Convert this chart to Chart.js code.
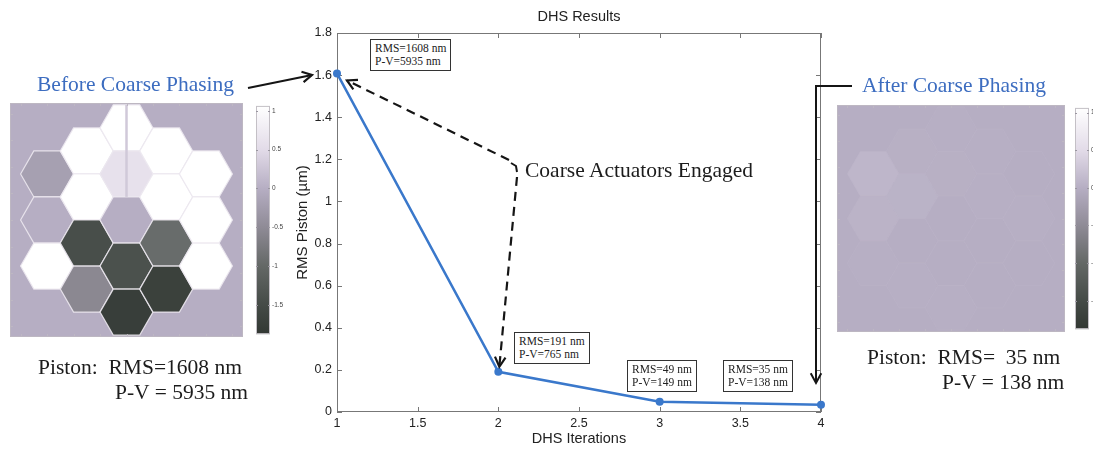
<!DOCTYPE html>
<html>
<head>
<meta charset="utf-8">
<script src="https://cdn.jsdelivr.net/npm/chart.js@4.4.1/dist/chart.umd.min.js"></script>
<style>
  html, body { margin: 0; padding: 0; background: #fff; width: 1093px; height: 450px; overflow: hidden; }
  body { position: relative; }
  canvas { position: absolute; }
  #main { left: 0; top: 0; z-index: 2; pointer-events: none; }
  .lbl { position: absolute; z-index: 3; white-space: pre; font-family: "Liberation Serif", "Times New Roman", serif; font-size: 21.5px; line-height: 1; color: #1c1c1c; }
  .blue { color: #3d6dc0; }
  .box { position: absolute; z-index: 3; background: #fff; border: 1px solid #333; font-family: "Liberation Serif", "Times New Roman", serif; font-size: 11.5px; line-height: 13px; padding: 2px 4px; white-space: pre; color: #222; }
  #title { position: absolute; z-index: 3; left: 579px; top: 9px; transform: translateX(-50%); font-family: "Liberation Sans", Arial, sans-serif; font-size: 14.5px; line-height: 1; color: #222; white-space: pre; }
</style>
</head>
<body>
<canvas id="before" width="233" height="234" style="left:10px;top:103px"></canvas>
<canvas id="beforeBar" width="40" height="240" style="left:256px;top:100px"></canvas>
<canvas id="after" width="228" height="227" style="left:837px;top:105px"></canvas>
<canvas id="afterBar" width="40" height="233" style="left:1075px;top:102px"></canvas>
<canvas id="main" width="1093" height="450"></canvas>

<div id="title">DHS Results</div>
<div class="lbl blue" style="left:37px;top:74px">Before Coarse Phasing</div>
<div class="lbl" style="left:38px;top:357px">Piston:  RMS=1608 nm</div>
<div class="lbl" style="left:115px;top:382px">P-V = 5935 nm</div>
<div class="lbl blue" style="left:862px;top:75px">After Coarse Phasing</div>
<div class="lbl" style="left:867px;top:347px">Piston:  RMS=  35 nm</div>
<div class="lbl" style="left:942px;top:372px">P-V = 138 nm</div>
<div class="lbl" style="left:525px;top:160px">Coarse Actuators Engaged</div>

<script>
// DHS run: RMS piston after each iteration
const iterations = [1, 2, 3, 4]
const rmsPiston = [1.608, 0.191, 0.049, 0.035]

const xTicks = [1, 1.5, 2, 2.5, 3, 3.5, 4]
const xTickLabels = ['1', '1.5', '2', '2.5', '3', '3.5', '4']
const yTicks = [0, 0.2, 0.4, 0.6, 0.8, 1, 1.2, 1.4, 1.6, 1.8]
const yTickLabels = ['0', '0.2', '0.4', '0.6', '0.8', '1', '1.2', '1.4', '1.6', '1.8']

// text in the boxes next to each point
const rmsNotes = ['RMS=1608 nm', 'RMS=191 nm', 'RMS=49 nm', 'RMS=35 nm']
const pvNotes = ['P-V=5935 nm', 'P-V=765 nm', 'P-V=149 nm', 'P-V=138 nm']

// colorbar ticks (um)
const cbTicks = [1, 0.5, 0, -0.5, -1, -1.5]
const cbTickLabels = ['1', '0.5', '0', '-0.5', '-1', '-1.5']

// segment grid: column q, row r (flat-top hexes)
const segQ = [-2, -2, -2, -1, -1, -1, -1, 0, 0, 0, 0, 0, 1, 1, 1, 1, 2, 2, 2]
const segR = [-1, 0, 1, -1.5, -0.5, 0.5, 1.5, -2, -1, 0, 1, 2, -1.5, -0.5, 0.5, 1.5, -1, 0, 1]
// piston per segment (um)
const pistonBefore = [-0.2, 0, 1.1, 1.1, 1.1, -1.45, -0.55, 1.1, 0.6, 0, -1.4, -1.75, 1.1, 1.1, -0.95, -1.7, 1.1, 1.1, 1.1]
const pistonAfter = [0.09, 0.06, 0.01, 0.02, 0.05, 0, 0.01, 0.01, 0.02, 0, 0, 0.01, 0.01, 0.01, 0, 0, 0, 0.01, 0]

const cmapVals = [1.063, 0.5, 0, -0.5, -1, -1.5, -1.877]
const cmapCols = [[255, 255, 255], [226, 219, 232], [182, 174, 195], [143, 139, 150], [100, 104, 102], [69, 75, 71], [50, 56, 51]]

function cmap(v) {
  if (v >= cmapVals[0]) return 'rgb(' + cmapCols[0].join(',') + ')'
  for (let i = 1; i < cmapVals.length; i++) {
    if (v >= cmapVals[i]) {
      const t = (v - cmapVals[i]) / (cmapVals[i - 1] - cmapVals[i])
      const c = cmapCols[i].map((c0, k) => Math.round(c0 + (cmapCols[i - 1][k] - c0) * t))
      return 'rgb(' + c.join(',') + ')'
    }
  }
  return 'rgb(' + cmapCols[cmapCols.length - 1].join(',') + ')'
}

const SQ3 = Math.sqrt(3)
const sans = '"Liberation Sans", Arial, sans-serif'

const hexPlugin = {
  id: 'hexes',
  beforeDatasetsDraw(chart, args, opts) {
    const { ctx, chartArea: a, scales: { x, y } } = chart
    ctx.save()
    ctx.fillStyle = cmap(0)
    ctx.fillRect(a.left, a.top, a.width, a.height)
    chart.data.datasets[0].data.forEach(p => {
      ctx.beginPath()
      for (let k = 0; k < 6; k++) {
        const ang = k * Math.PI / 3
        const px = x.getPixelForValue(p.x + Math.cos(ang))
        const py = y.getPixelForValue(p.y + Math.sin(ang))
        k ? ctx.lineTo(px, py) : ctx.moveTo(px, py)
      }
      ctx.closePath()
      ctx.fillStyle = cmap(p.v)
      ctx.fill()
      ctx.strokeStyle = opts.edge
      ctx.lineWidth = 1.2
      ctx.stroke()
    })
    if (opts.seam) {
      ctx.strokeStyle = cmap(0.3)
      ctx.lineWidth = 2.5
      ctx.beginPath()
      ctx.moveTo(x.getPixelForValue(0), y.getPixelForValue(-4.33))
      ctx.lineTo(x.getPixelForValue(0), y.getPixelForValue(-0.87))
      ctx.stroke()
    }
    // frame with small ticks
    ctx.strokeStyle = '#bdb7c2'
    ctx.lineWidth = 1
    ctx.strokeRect(a.left + 0.5, a.top + 0.5, a.width - 1, a.height - 1)
    for (let v = -4; v <= 4; v++) {
      const px = Math.round(x.getPixelForValue(v)) + 0.5
      const py = Math.round(y.getPixelForValue(v)) + 0.5
      ctx.beginPath()
      ctx.moveTo(px, a.bottom); ctx.lineTo(px, a.bottom - 3)
      ctx.moveTo(px, a.top); ctx.lineTo(px, a.top + 3)
      ctx.moveTo(a.left, py); ctx.lineTo(a.left + 3, py)
      ctx.moveTo(a.right, py); ctx.lineTo(a.right - 3, py)
      ctx.stroke()
    }
    ctx.restore()
  }
}

function hexPanel(id, values, seam) {
  new Chart(document.getElementById(id), {
    type: 'scatter',
    data: {
      datasets: [{
        data: segQ.map((q, i) => ({ x: q * 1.5, y: segR[i] * SQ3, v: values[i] })),
        pointRadius: 0
      }]
    },
    options: {
      responsive: false,
      animation: false,
      events: [],
      layout: { padding: 0 },
      plugins: {
        legend: { display: false },
        tooltip: { enabled: false },
        hexes: { edge: seam ? 'rgba(236,232,240,0.9)' : 'rgba(190,182,202,0.25)', seam: seam }
      },
      scales: {
        x: { type: 'linear', min: -4.4, max: 4.4, display: false },
        y: { type: 'linear', min: -4.4, max: 4.4, reverse: true, display: false }
      }
    },
    plugins: [hexPlugin]
  })
}

const barPlugin = {
  id: 'cbar',
  beforeDraw(chart) {
    const { ctx, chartArea: a, scales: { y } } = chart
    const g = ctx.createLinearGradient(0, a.top, 0, a.bottom)
    cmapVals.forEach((v, i) => {
      const off = (y.getPixelForValue(v) - a.top) / a.height
      g.addColorStop(Math.min(1, Math.max(0, off)), 'rgb(' + cmapCols[i].join(',') + ')')
    })
    ctx.save()
    ctx.fillStyle = g
    ctx.fillRect(a.left, a.top, a.width, a.height)
    ctx.strokeStyle = '#c4c0c6'
    ctx.lineWidth = 1
    ctx.strokeRect(a.left + 0.5, a.top + 0.5, a.width - 1, a.height - 1)
    ctx.strokeStyle = '#9a96a0'
    y.ticks.forEach(t => {
      const py = Math.round(y.getPixelForValue(t.value)) + 0.5
      ctx.beginPath()
      ctx.moveTo(a.left, py); ctx.lineTo(a.left + 2, py)
      ctx.moveTo(a.right, py); ctx.lineTo(a.right - 2, py)
      ctx.stroke()
    })
    ctx.restore()
  }
}

function colorBar(id) {
  new Chart(document.getElementById(id), {
    type: 'scatter',
    data: { datasets: [] },
    options: {
      responsive: false,
      animation: false,
      events: [],
      layout: { padding: { top: 3, bottom: 3, left: 0, right: 0 } },
      plugins: { legend: { display: false }, tooltip: { enabled: false } },
      scales: {
        x: { type: 'linear', min: 0, max: 1, display: false },
        y: {
          type: 'linear', position: 'right', min: -1.877, max: 1.063,
          afterBuildTicks: s => { s.ticks = cbTicks.map(v => ({ value: v })) },
          afterFit: s => { s.width = 26 },
          ticks: { callback: (v, i) => cbTickLabels[i], autoSkip: false, padding: 2, color: '#444', font: { family: sans, size: 6.5 } },
          grid: { display: false, drawTicks: false },
          border: { display: false }
        }
      }
    },
    plugins: [barPlugin]
  })
}

// MATLAB-like box with inward ticks on all four sides
const boxPlugin = {
  id: 'matBox',
  beforeDatasetsDraw(chart) {
    const { ctx, chartArea: a, scales: { x, y } } = chart
    ctx.save()
    ctx.strokeStyle = '#777'
    ctx.lineWidth = 1
    ctx.strokeRect(a.left + 0.5, a.top + 0.5, a.width - 1, a.height - 1)
    x.ticks.forEach(t => {
      const px = Math.round(x.getPixelForValue(t.value)) + 0.5
      ctx.beginPath()
      ctx.moveTo(px, a.bottom); ctx.lineTo(px, a.bottom - 5)
      ctx.moveTo(px, a.top); ctx.lineTo(px, a.top + 5)
      ctx.stroke()
    })
    y.ticks.forEach(t => {
      const py = Math.round(y.getPixelForValue(t.value)) + 0.5
      ctx.beginPath()
      ctx.moveTo(a.left, py); ctx.lineTo(a.left + 5, py)
      ctx.moveTo(a.right, py); ctx.lineTo(a.right - 5, py)
      ctx.stroke()
    })
    ctx.restore()
  }
}

function arrow(ctx, pts, dash, width) {
  ctx.save()
  ctx.strokeStyle = '#151515'
  ctx.lineWidth = width
  ctx.lineJoin = 'miter'
  ctx.setLineDash(dash)
  ctx.beginPath()
  ctx.moveTo(pts[0][0], pts[0][1])
  pts.slice(1).forEach(p => ctx.lineTo(p[0], p[1]))
  ctx.stroke()
  const [x1, y1] = pts[pts.length - 2]
  const [x2, y2] = pts[pts.length - 1]
  const ang = Math.atan2(y2 - y1, x2 - x1)
  ctx.setLineDash([])
  ctx.beginPath()
  ctx.moveTo(x2 - 11 * Math.cos(ang - 0.5), y2 - 11 * Math.sin(ang - 0.5))
  ctx.lineTo(x2, y2)
  ctx.lineTo(x2 - 11 * Math.cos(ang + 0.5), y2 - 11 * Math.sin(ang + 0.5))
  ctx.stroke()
  ctx.restore()
}

const arrowPlugin = {
  id: 'arrows',
  afterDraw(chart) {
    const { ctx, scales: { x, y } } = chart
    const p1 = [x.getPixelForValue(iterations[0]), y.getPixelForValue(rmsPiston[0])]
    const p2 = [x.getPixelForValue(iterations[1]), y.getPixelForValue(rmsPiston[1])]
    arrow(ctx, [[248, 88], [312, 75]], [], 2.2)
    arrow(ctx, [[509, 160], [p1[0] + 10, p1[1] + 7]], [9, 6], 2.2)
    ctx.save()
    ctx.strokeStyle = '#151515'
    ctx.lineWidth = 2
    ctx.beginPath()
    ctx.moveTo(511, 163); ctx.lineTo(516, 166); ctx.lineTo(517, 172)
    ctx.stroke()
    ctx.restore()
    arrow(ctx, [[517, 177], [p2[0] + 1, p2[1] - 5]], [9, 6], 2.2)
    arrow(ctx, [[852, 86], [816, 86], [816, 383]], [], 2)
  }
}

const chart = new Chart(document.getElementById('main'), {
  type: 'line',
  data: {
    datasets: [{
      data: iterations.map((it, i) => ({ x: it, y: rmsPiston[i] })),
      borderColor: '#3a78cb',
      backgroundColor: '#3a78cb',
      pointBackgroundColor: '#3a78cb',
      borderWidth: 2.5,
      pointRadius: 4,
      pointBorderWidth: 0,
      tension: 0,
      clip: 8
    }]
  },
  options: {
    responsive: false,
    animation: false,
    events: [],
    layout: { padding: { left: 277, right: 272, top: 33, bottom: 2 } },
    plugins: { legend: { display: false }, tooltip: { enabled: false }, title: { display: false } },
    scales: {
      x: {
        type: 'linear', min: 1, max: 4,
        afterBuildTicks: s => { s.ticks = xTicks.map(v => ({ value: v })) },
        afterFit: s => { s.height = 36 },
        ticks: { callback: (v, i) => xTickLabels[i], autoSkip: false, maxRotation: 0, padding: 4, color: '#222', font: { family: sans, size: 12.5 } },
        grid: { display: false, drawTicks: false },
        border: { display: false },
        title: { display: true, text: 'DHS Iterations', color: '#222', padding: { top: 0, bottom: 0 }, font: { family: sans, size: 14.5 } }
      },
      y: {
        type: 'linear', min: 0, max: 1.8,
        afterBuildTicks: s => { s.ticks = yTicks.map(v => ({ value: v })) },
        afterFit: s => { s.width = 60 },
        ticks: { callback: (v, i) => yTickLabels[i], autoSkip: false, padding: 5, color: '#222', font: { family: sans, size: 12.5 } },
        grid: { display: false, drawTicks: false },
        border: { display: false },
        title: { display: true, text: 'RMS Piston (µm)', color: '#222', padding: { top: 17, bottom: 0 }, font: { family: sans, size: 15 } }
      }
    }
  },
  plugins: [boxPlugin, arrowPlugin]
})

hexPanel('before', pistonBefore, true)
hexPanel('after', pistonAfter, false)
colorBar('beforeBar')
colorBar('afterBar')

// note boxes, placed near their points
const boxPos = [[370, 39], [514, 332], [627, 360], [723, 360]]
rmsNotes.forEach((t, i) => {
  const d = document.createElement('div')
  d.className = 'box'
  d.textContent = t + '\n' + pvNotes[i]
  d.style.left = boxPos[i][0] + 'px'
  d.style.top = boxPos[i][1] + 'px'
  document.body.appendChild(d)
})
</script>
</body>
</html>
